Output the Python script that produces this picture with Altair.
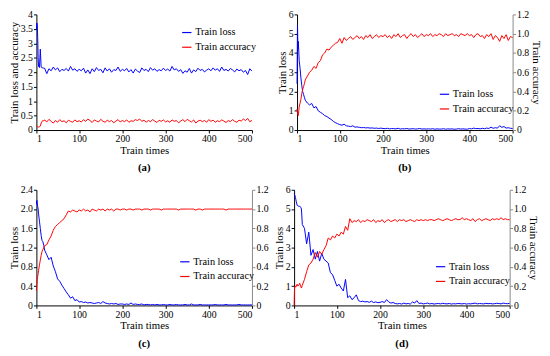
import altair as alt
import pandas as pd

FONT = "Liberation Serif"

# training iterations (x)
X = [1, 2, 3, 4, 5, 6, 8, 10, 12, 14, 16, 18,
     20, 25, 30, 35, 40, 45, 50, 55, 60, 65, 70, 75, 80, 85, 90, 95, 100,
     105, 110, 115, 120, 125, 130, 135, 140, 145, 150, 155, 160, 165, 170, 175, 180, 185, 190, 195, 200,
     205, 210, 215, 220, 225, 230, 235, 240, 245, 250, 255, 260, 265, 270, 275, 280, 285, 290, 295, 300,
     305, 310, 315, 320, 325, 330, 335, 340, 345, 350, 355, 360, 365, 370, 375, 380, 385, 390, 395, 400,
     405, 410, 415, 420, 425, 430, 435, 440, 445, 450, 455, 460, 465, 470, 475, 480, 485, 490, 495, 500]

SERIES = ["Train loss", "Train accuracy"]
X_TICKS = [1, 100, 200, 300, 400, 500]

# (a)
A_LOSS = [3.50, 3.70, 3.60, 3.20, 2.50, 2.20, 2.16, 2.80, 2.18, 2.15, 2.15, 2.14,
          2.14, 1.95, 2.12, 2.05, 2.18, 2.08, 2.15, 2.02, 2.10, 2.06, 2.13, 2.04, 2.20, 2.07, 2.12, 2.03, 2.10,
          2.05, 2.14, 1.97, 2.08, 1.95, 2.12, 2.02, 2.16, 2.06, 2.10, 1.98, 2.15, 2.04, 2.12, 2.00, 2.09, 2.06, 2.18, 2.03, 2.10,
          2.05, 2.13, 2.01, 2.09, 1.97, 2.11, 2.04, 1.99, 2.15, 2.06, 2.10, 2.02, 2.16, 2.07, 2.12, 2.03, 2.09, 2.05, 2.14, 2.06,
          2.11, 2.04, 2.20, 2.08, 2.12, 2.03, 2.09, 1.96, 2.05, 2.00, 2.13, 1.97, 2.08, 2.02, 2.14, 2.06, 2.10, 2.01, 2.07, 2.12,
          2.05, 2.15, 2.07, 2.12, 2.03, 2.18, 2.06, 2.10, 2.04, 2.13, 2.08, 2.01, 2.11, 2.05, 2.09, 2.00, 2.06, 1.92, 2.12, 2.04]
A_ACC = [0.15, 0.13, 0.12, 0.11, 0.10, 0.10, 0.11, 0.14, 0.24, 0.30, 0.33, 0.31,
         0.35, 0.28, 0.37, 0.30, 0.24, 0.33, 0.27, 0.36, 0.29, 0.32, 0.25, 0.34, 0.30, 0.27, 0.35, 0.29, 0.32,
         0.28, 0.36, 0.30, 0.38, 0.33, 0.26, 0.35, 0.31, 0.28, 0.37, 0.30, 0.27, 0.34, 0.29, 0.33, 0.25, 0.31, 0.36, 0.28, 0.33,
         0.29, 0.35, 0.27, 0.32, 0.30, 0.36, 0.33, 0.38, 0.30, 0.34, 0.27, 0.33, 0.29, 0.36, 0.31, 0.26, 0.34, 0.30, 0.35, 0.28,
         0.32, 0.27, 0.35, 0.30, 0.33, 0.25, 0.31, 0.36, 0.29, 0.37, 0.32, 0.28, 0.35, 0.24, 0.31, 0.34, 0.29, 0.33, 0.27, 0.36,
         0.30, 0.34, 0.27, 0.32, 0.29, 0.35, 0.31, 0.26, 0.33, 0.29, 0.36, 0.30, 0.27, 0.34, 0.31, 0.38, 0.33, 0.40, 0.29, 0.33]

# (b)
B_LOSS = [2.40, 5.45, 4.20, 4.60, 4.10, 3.60, 3.20, 2.70, 2.30, 2.00, 1.85, 1.70,
          1.55, 1.40, 1.30, 1.38, 1.15, 1.22, 1.00, 0.92, 0.85, 0.75, 0.70, 0.62, 0.55, 0.45, 0.38, 0.33, 0.28,
          0.25, 0.30, 0.22, 0.20, 0.18, 0.22, 0.15, 0.16, 0.14, 0.12, 0.13, 0.11, 0.12, 0.10, 0.11, 0.09, 0.10, 0.08, 0.10, 0.08,
          0.07, 0.09, 0.06, 0.08, 0.07, 0.06, 0.09, 0.05, 0.07, 0.06, 0.08, 0.05, 0.06, 0.07, 0.05, 0.06, 0.08, 0.05, 0.06, 0.05,
          0.06, 0.05, 0.07, 0.04, 0.06, 0.05, 0.05, 0.07, 0.04, 0.06, 0.05, 0.06, 0.04, 0.05, 0.07, 0.05, 0.06, 0.05, 0.04, 0.08,
          0.06, 0.10, 0.07, 0.08, 0.06, 0.09, 0.07, 0.10, 0.08, 0.15, 0.09, 0.12, 0.10, 0.22, 0.14, 0.18, 0.10, 0.12, 0.09, 0.08]
B_ACC = [0.22, 0.18, 0.16, 0.15, 0.20, 0.24, 0.28, 0.32, 0.38, 0.42, 0.45, 0.48,
         0.52, 0.56, 0.60, 0.62, 0.66, 0.64, 0.70, 0.72, 0.78, 0.80, 0.84, 0.83, 0.86, 0.88, 0.90, 0.91, 0.95,
         0.90, 0.96, 0.93, 0.95, 0.97, 0.94, 0.96, 0.98, 0.95, 0.97, 0.94, 0.98, 0.96, 0.99, 0.95, 0.97, 0.99, 0.96, 0.98, 0.97,
         0.99, 0.96, 0.98, 0.95, 0.99, 0.97, 1.00, 0.96, 0.98, 0.99, 0.95, 0.98, 1.00, 0.97, 0.99, 0.96, 0.98, 1.00, 0.97, 0.99,
         0.98, 1.00, 0.97, 0.99, 0.98, 1.00, 0.99, 0.97, 1.00, 0.98, 0.99, 1.00, 0.98, 0.99, 0.97, 1.00, 0.99, 0.98, 1.00, 0.98,
         0.99, 0.96, 0.99, 1.00, 0.97, 0.98, 0.95, 0.99, 0.97, 1.00, 0.94, 0.98, 0.96, 0.92, 0.98, 0.95, 0.99, 0.93, 0.97, 0.96]

# (c)
C_LOSS = [2.10, 2.18, 2.12, 2.05, 2.00, 1.90, 1.75, 1.60, 1.45, 1.35, 1.32, 1.25,
          1.15, 1.05, 0.95, 1.00, 0.82, 0.70, 0.55, 0.50, 0.42, 0.35, 0.28, 0.22, 0.15, 0.18, 0.10, 0.12, 0.07,
          0.08, 0.06, 0.07, 0.05, 0.06, 0.05, 0.04, 0.05, 0.06, 0.04, 0.08, 0.05, 0.04, 0.03, 0.04, 0.03, 0.04, 0.02, 0.03, 0.03,
          0.02, 0.03, 0.02, 0.05, 0.02, 0.03, 0.02, 0.02, 0.03, 0.01, 0.02, 0.02, 0.01, 0.02, 0.01, 0.02, 0.01, 0.01, 0.02, 0.01,
          0.01, 0.02, 0.01, 0.01, 0.02, 0.01, 0.01, 0.01, 0.02, 0.01, 0.01, 0.03, 0.01, 0.01, 0.01, 0.02, 0.01, 0.01, 0.01, 0.01,
          0.01, 0.01, 0.02, 0.01, 0.01, 0.01, 0.01, 0.02, 0.01, 0.01, 0.01, 0.01, 0.01, 0.02, 0.01, 0.01, 0.01, 0.01, 0.01, 0.01]
C_ACC = [0.15, 0.22, 0.27, 0.30, 0.33, 0.36, 0.42, 0.47, 0.52, 0.56, 0.58, 0.60,
         0.62, 0.63, 0.68, 0.72, 0.78, 0.82, 0.84, 0.86, 0.88, 0.90, 0.94, 0.98, 0.97, 0.99, 0.98, 0.97, 0.99,
         0.98, 1.00, 0.98, 0.99, 0.97, 1.00, 0.99, 0.98, 1.00, 0.99, 1.00, 0.98, 1.00, 0.99, 1.00, 0.98, 1.00, 1.00, 0.99, 1.00,
         1.00, 0.99, 1.00, 1.00, 0.99, 1.00, 1.00, 1.00, 0.99, 1.00, 1.00, 1.00, 0.99, 1.00, 1.00, 1.00, 1.00, 0.99, 1.00, 1.00,
         1.00, 1.00, 1.00, 1.00, 1.00, 0.99, 1.00, 1.00, 1.00, 1.00, 1.00, 1.00, 1.00, 0.99, 1.00, 1.00, 0.99, 1.00, 1.00, 1.00,
         1.00, 1.00, 1.00, 1.00, 1.00, 1.00, 1.00, 0.99, 1.00, 1.00, 1.00, 1.00, 1.00, 1.00, 1.00, 1.00, 1.00, 1.00, 1.00, 1.00]

# (d)
D_LOSS = [5.80, 5.75, 5.70, 5.60, 5.50, 5.40, 5.20, 5.15, 5.15, 5.15, 5.10, 5.00,
          4.20, 4.00, 3.20, 3.80, 2.60, 2.90, 2.40, 2.80, 2.30, 2.70, 2.40, 2.30, 2.20, 1.70, 1.60, 1.30, 1.00,
          1.10, 0.90, 0.75, 1.35, 0.40, 0.50, 0.30, 0.40, 0.55, 0.25, 0.20, 0.22, 0.18, 0.20, 0.16, 0.22, 0.15, 0.18, 0.14, 0.16,
          0.20, 0.15, 0.30, 0.18, 0.12, 0.15, 0.10, 0.08, 0.10, 0.07, 0.12, 0.08, 0.10, 0.07, 0.18, 0.12, 0.25, 0.10, 0.12, 0.08,
          0.10, 0.12, 0.08, 0.10, 0.07, 0.09, 0.10, 0.08, 0.11, 0.09, 0.08, 0.10, 0.07, 0.09, 0.08, 0.10, 0.09, 0.08, 0.10, 0.07,
          0.09, 0.08, 0.10, 0.12, 0.08, 0.10, 0.09, 0.08, 0.11, 0.09, 0.10, 0.08, 0.09, 0.11, 0.10, 0.08, 0.12, 0.10, 0.09, 0.11]
D_ACC = [0.00, 0.18, 0.20, 0.20, 0.19, 0.20, 0.22, 0.20, 0.21, 0.23, 0.20, 0.18,
         0.21, 0.27, 0.35, 0.42, 0.44, 0.48, 0.55, 0.50, 0.56, 0.53, 0.58, 0.62, 0.70, 0.68, 0.72, 0.70, 0.74,
         0.72, 0.76, 0.74, 0.82, 0.78, 0.90, 0.86, 0.88, 0.87, 0.89, 0.86, 0.88, 0.87, 0.89, 0.88, 0.87, 0.89, 0.86, 0.88, 0.87,
         0.89, 0.86, 0.88, 0.89, 0.87, 0.88, 0.89, 0.87, 0.89, 0.88, 0.89, 0.87, 0.88, 0.89, 0.88, 0.87, 0.89, 0.88, 0.89, 0.88,
         0.89, 0.88, 0.89, 0.89, 0.88, 0.89, 0.90, 0.89, 0.88, 0.89, 0.90, 0.89, 0.88, 0.89, 0.90, 0.89, 0.89, 0.91, 0.89, 0.90,
         0.89, 0.88, 0.90, 0.87, 0.89, 0.90, 0.88, 0.89, 0.90, 0.89, 0.88, 0.90, 0.89, 0.90, 0.89, 0.91, 0.89, 0.90, 0.89, 0.89]

for name, arr in [("A_LOSS", A_LOSS), ("A_ACC", A_ACC), ("B_LOSS", B_LOSS), ("B_ACC", B_ACC),
                  ("C_LOSS", C_LOSS), ("C_ACC", C_ACC), ("D_LOSS", D_LOSS), ("D_ACC", D_ACC)]:
    if len(arr) != len(X):
        raise ValueError(f"{name} has {len(arr)} values, expected {len(X)}")

ONE_DEC = "datum.value == 0 ? '0' : format(datum.value, '.1f')"
INT_LABEL = "format(datum.value, 'd')"
RIGHT_TICKS = [0, 0.2, 0.4, 0.6, 0.8, 1.0, 1.2]


def frame(loss, acc):
    return pd.DataFrame({
        "x": X + X,
        "value": loss + acc,
        "series": [SERIES[0]] * len(X) + [SERIES[1]] * len(X),
    })


def color_enc(lx, ly):
    return alt.Color(
        "series:N",
        scale=alt.Scale(domain=SERIES, range=["#0000ff", "#ff0000"]),
        legend=alt.Legend(orient="none", legendX=lx, legendY=ly, title=None,
                          symbolType="stroke", symbolStrokeWidth=1.2, symbolSize=90,
                          labelFont=FONT, labelFontSize=10.5, labelColor="#000",
                          rowPadding=4, padding=0, labelOffset=3),
    )


def x_enc():
    return alt.X("x:Q", scale=alt.Scale(domain=[1, 500], nice=False, zero=False),
                 axis=alt.Axis(values=X_TICKS, format="d", title="Train times", titlePadding=1))


def caption(letter):
    return alt.TitleParams(letter, orient="bottom", font=FONT, fontSize=11,
                           fontWeight="bold", offset=7, color="#000")


W, H = 220, 118

# panel (a): single axis
df_a = frame(A_LOSS, A_ACC)
panel_a = alt.Chart(df_a).mark_line(strokeWidth=1).encode(
    x=x_enc(),
    y=alt.Y("value:Q", scale=alt.Scale(domain=[0, 4], nice=False),
            axis=alt.Axis(values=[0, 0.5, 1, 1.5, 2, 2.5, 3, 3.5, 4], format="~g",
                          title="Train loss and accuracy", titlePadding=1)),
    color=color_enc(148, 13),
).properties(width=W, height=H, title=caption("(a)"))


def dual_panel(loss, acc, loss_max, loss_ticks, loss_label, right_title, lx, ly, letter):
    df = frame(loss, acc)
    base = alt.Chart(df)
    left = base.transform_filter(alt.datum.series == SERIES[0]).mark_line(strokeWidth=1).encode(
        x=x_enc(),
        y=alt.Y("value:Q", scale=alt.Scale(domain=[0, loss_max], nice=False),
                axis=alt.Axis(values=loss_ticks, labelExpr=loss_label, title="Train loss", titlePadding=1)),
        color=color_enc(lx, ly),
    )
    if right_title:
        right_axis = alt.Axis(values=RIGHT_TICKS, labelExpr=ONE_DEC, orient="right",
                              domainColor="#888", tickColor="#888", titlePadding=2,
                              title=right_title)
    else:
        right_axis = alt.Axis(values=RIGHT_TICKS, labelExpr=ONE_DEC, orient="right",
                              domainColor="#888", tickColor="#888", title=None)
    rightl = base.transform_filter(alt.datum.series == SERIES[1]).mark_line(strokeWidth=1).encode(
        x=x_enc(),
        y=alt.Y("value:Q", scale=alt.Scale(domain=[0, 1.2], nice=False), axis=right_axis),
        color=color_enc(lx, ly),
    )
    return alt.layer(left, rightl).resolve_scale(y="independent").properties(
        width=W, height=H, title=caption(letter))


panel_b = dual_panel(B_LOSS, B_ACC, 6, [0, 1, 2, 3, 4, 5, 6], INT_LABEL, "Train accuracy", 145, 76, "(b)")
panel_c = dual_panel(C_LOSS, C_ACC, 2.4, [0, 0.4, 0.8, 1.2, 1.6, 2.0, 2.4], ONE_DEC, None, 146, 68, "(c)")
panel_d = dual_panel(D_LOSS, D_ACC, 6, [0, 1, 2, 3, 4, 5, 6], INT_LABEL, "Train accuracy", 144, 73, "(d)")

top = alt.hconcat(panel_a, panel_b, spacing=20).resolve_scale(color="independent")
bottom = alt.hconcat(panel_c, panel_d, spacing=5).resolve_scale(color="independent")

chart = alt.vconcat(top, bottom, spacing=12).resolve_scale(color="independent").properties(
    padding={"left": 0, "top": -2, "right": 0, "bottom": 0}, background="white"
).configure_view(stroke=None).configure_axis(
    grid=False, domainColor="#000", tickColor="#000", tickSize=3, labelPadding=1,
    labelFont=FONT, labelFontSize=10, labelColor="#000",
    titleFont=FONT, titleFontSize=11, titleFontWeight="normal", titleColor="#000",
    domainWidth=1, tickWidth=1,
)

chart.save("out.html", embed_options={"renderer": "svg", "actions": False})
